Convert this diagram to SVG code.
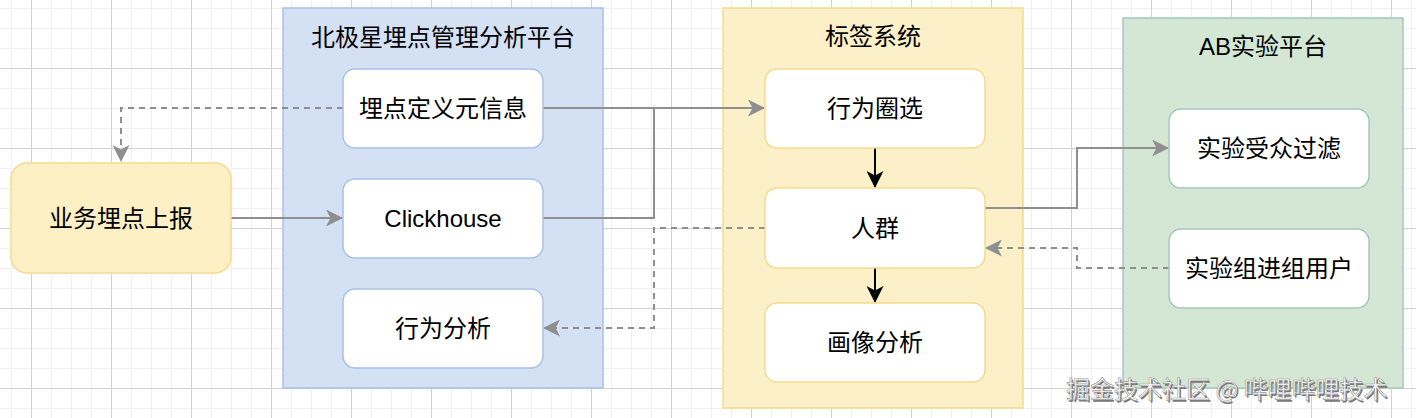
<svg xmlns="http://www.w3.org/2000/svg" width="1416" height="418" viewBox="0 0 1416 418">
<style>
.t{font-family:"Liberation Sans","Noto Sans CJK SC",sans-serif;font-size:24px;fill:#000;text-anchor:middle;dominant-baseline:central}
.inb{fill:#fff;stroke:#a9c0e6;stroke-width:1.5}
.iny{fill:#fff;stroke:#f6da8d;stroke-width:1.5}
.ing{fill:#fff;stroke:#a3c8bd;stroke-width:1.5}
.c{fill:none;stroke:#8f8f8f;stroke-width:2}
.d{stroke-dasharray:6 5}
.k{fill:none;stroke:#000;stroke-width:2}
.wm{font-family:"Noto Sans CJK SC",sans-serif;font-size:24px}
</style>
<defs>
<pattern id="grid" width="80" height="80" patternUnits="userSpaceOnUse" x="31" y="68">
<rect width="80" height="80" fill="#fff"/>
<path d="M20.5 0V80M40.5 0V80M60.5 0V80M0 20.5H80M0 40.5H80M0 60.5H80" stroke="#f0f0f0" stroke-width="1"/>
<path d="M0.5 0V80M0 0.5H80" stroke="#d2d2d2" stroke-width="1"/>
</pattern>
<marker id="ag" viewBox="0 0 17 17" markerUnits="userSpaceOnUse" markerWidth="17" markerHeight="17" refX="16" refY="8.5" orient="auto">
<path d="M0,0 L17,8.5 L0,17 L4.5,8.5 Z" fill="#8f8f8f"/>
</marker>
<marker id="ak" viewBox="0 0 17 17" markerUnits="userSpaceOnUse" markerWidth="17" markerHeight="17" refX="16" refY="8.5" orient="auto">
<path d="M0,0 L17,8.5 L0,17 L4.5,8.5 Z" fill="#000"/>
</marker>
</defs>
<rect width="1416" height="418" fill="url(#grid)"/>

<g id="container-beiji">
<rect x="283" y="8" width="320" height="380" fill="#d4e1f5" stroke="#a9c0e6" stroke-width="1.5"/>
<text class="t" x="443" y="37">北极星埋点管理分析平台</text>
</g>
<g id="container-tag">
<rect x="723" y="8" width="300" height="400" fill="#fcf0c8" stroke="#f6da8d" stroke-width="1.5"/>
<text class="t" x="873" y="36">标签系统</text>
</g>
<g id="container-ab">
<rect x="1123" y="18" width="280" height="370" fill="#d4e7d4" stroke="#a3c8bd" stroke-width="1.5"/>
<text class="t" x="1263" y="46">AB实验平台</text>
</g>

<g id="connectors">
<path class="c d" d="M343,108 H121 V161" marker-end="url(#ag)"/>
<path class="c" d="M231,218 H342" marker-end="url(#ag)"/>
<path class="c" d="M543,108 H764" marker-end="url(#ag)"/>
<path class="c" d="M543,218 H654 V108"/>
<path class="c d" d="M765,228 H654 V328 H544" marker-end="url(#ag)"/>
<path class="c" d="M985,208 H1077 V148 H1168" marker-end="url(#ag)"/>
<path class="c d" d="M1169,268 H1077 V248 H986" marker-end="url(#ag)"/>
<path class="k" d="M875,148 V187" marker-end="url(#ak)"/>
<path class="k" d="M875,268 V302" marker-end="url(#ak)"/>
</g>

<g id="node-report">
<rect x="11" y="163" width="220" height="110" rx="16" fill="#fdf0c4" stroke="#f6da8d" stroke-width="1.5"/>
<text class="t" x="121" y="218">业务埋点上报</text>
</g>
<g id="node-meta">
<rect class="inb" x="343" y="69" width="200" height="79" rx="12"/>
<text class="t" x="443" y="108">埋点定义元信息</text>
</g>
<g id="node-clickhouse">
<rect class="inb" x="343" y="179" width="200" height="79" rx="12"/>
<text class="t" x="443" y="218">Clickhouse</text>
</g>
<g id="node-behavior-analysis">
<rect class="inb" x="343" y="289" width="200" height="79" rx="12"/>
<text class="t" x="443" y="328">行为分析</text>
</g>
<g id="node-behavior-select">
<rect class="iny" x="765" y="69" width="220" height="79" rx="12"/>
<text class="t" x="875" y="108">行为圈选</text>
</g>
<g id="node-crowd">
<rect class="iny" x="765" y="188" width="220" height="80" rx="12"/>
<text class="t" x="875" y="228">人群</text>
</g>
<g id="node-portrait">
<rect class="iny" x="765" y="303" width="220" height="79" rx="12"/>
<text class="t" x="875" y="342">画像分析</text>
</g>
<g id="node-filter">
<rect class="ing" x="1169" y="109" width="200" height="79" rx="12"/>
<text class="t" x="1269" y="148">实验受众过滤</text>
</g>
<g id="node-group-users">
<rect class="ing" x="1169" y="229" width="200" height="79" rx="12"/>
<text class="t" x="1269" y="268">实验组进组用户</text>
</g>

<g id="watermark">
<text class="wm" x="1067.5" y="399.5" fill="#7a7a7a">掘金技术社区 @ 哔哩哔哩技术</text>
<text class="wm" x="1066" y="398" fill="#fff" stroke="#9a9a9a" stroke-width="0.6">掘金技术社区 @ 哔哩哔哩技术</text>
</g>
</svg>
